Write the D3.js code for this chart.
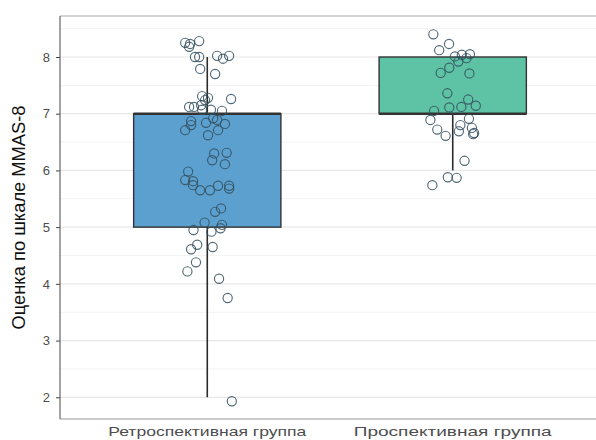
<!DOCTYPE html>
<html><head><meta charset="utf-8">
<script src="https://cdn.jsdelivr.net/npm/d3@7"></script>
<style>html,body{margin:0;padding:0;background:#fff;overflow:hidden}svg{display:block}</style>
</head><body>
<svg id="c" width="620" height="440"></svg>
<script>
const categories = ["Ретроспективная группа", "Проспективная группа"];
const boxLower  = [2, 6];
const boxQ1     = [5, 7];
const boxMedian = [7, 7];
const boxQ3     = [7, 8];
const boxUpper  = [8, 8];
const yTicks = [2, 3, 4, 5, 6, 7, 8];
const yTitle = "Оценка по шкале MMAS-8";

// jittered points: value and horizontal jitter (in category units)
const retroValues = [8.25,8.23,8.18,8.28,8.00,8.00,8.02,7.97,8.02,7.79,7.70,7.31,7.28,7.24,7.26,7.12,7.12,7.15,7.07,7.07,7.05,6.87,6.80,6.71,6.84,6.92,6.89,6.82,6.71,6.62,6.30,6.31,6.18,6.11,5.98,5.83,5.81,5.74,5.65,5.65,5.73,5.73,5.68,5.33,5.27,5.08,5.04,4.98,4.95,4.92,4.69,4.61,4.65,4.38,4.22,4.09,3.75,1.93];
const retroJitter = [-0.090,-0.070,-0.074,-0.033,-0.050,-0.033,0.040,0.064,0.089,-0.029,0.032,-0.021,0.003,-0.009,0.097,-0.074,-0.054,-0.025,-0.021,0.015,0.060,-0.066,-0.066,-0.090,-0.005,0.024,0.040,0.072,0.044,0.003,0.028,0.079,0.020,0.072,-0.078,-0.090,-0.058,-0.058,-0.029,0.011,0.044,0.089,0.089,0.056,0.032,-0.011,0.060,0.054,-0.056,0.017,-0.041,-0.066,0.022,-0.046,-0.081,0.048,0.083,0.100];
const prospValues = [8.40,8.23,8.12,8.01,8.04,8.05,7.98,7.92,7.81,7.72,7.71,7.36,7.25,7.14,7.12,7.11,7.05,6.89,6.91,6.80,6.72,6.69,6.75,6.61,6.64,6.66,6.17,5.88,5.87,5.74];
const prospJitter = [-0.079,-0.015,-0.055,0.009,0.037,0.070,0.056,0.023,-0.014,-0.049,0.068,-0.022,0.063,0.094,0.035,-0.014,-0.076,-0.091,0.066,0.031,-0.063,0.025,0.078,-0.029,0.083,0.087,0.048,-0.020,0.016,-0.083];
const fills = ["#5ca0cf", "#5ec2a4"];

const svg = d3.select("#c");
const L = 60, R = 600, T = 16, B = 419;
const x = d3.scaleLinear().domain([0.4, 2.6]).range([L, R]);
const y = d3.scaleLinear().domain([1.617, 8.723]).range([B, T]);
const RE = 610; // lines run past the window edge

// grid
const minor = d3.range(1.5, 9, 1).filter(v => v > 1.617 && v < 8.723);
svg.append("g").selectAll("line").data(minor).join("line")
  .attr("x1", L).attr("x2", RE).attr("y1", d => y(d)).attr("y2", d => y(d))
  .attr("stroke", "#f3f3f3").attr("stroke-width", 1);
svg.append("g").selectAll("line").data(yTicks).join("line")
  .attr("x1", L).attr("x2", RE).attr("y1", d => y(d)).attr("y2", d => y(d))
  .attr("stroke", "#e8e8e8").attr("stroke-width", 1.2);

// boxes
const boxes = categories.map((c, i) => ({i, lo: boxLower[i], q1: boxQ1[i], med: boxMedian[i], q3: boxQ3[i], hi: boxUpper[i]}));
const bw = 0.6;
const g = svg.append("g");
g.selectAll("line.wh").data(boxes).join("line").attr("class", "wh")
  .attr("x1", d => x(d.i + 1)).attr("x2", d => x(d.i + 1))
  .attr("y1", d => y(d.lo)).attr("y2", d => y(d.hi))
  .attr("stroke", "#2b2b2b").attr("stroke-width", 1.6);
g.selectAll("rect").data(boxes).join("rect")
  .attr("x", d => x(d.i + 1 - bw / 2)).attr("width", d => x(d.i + 1 + bw / 2) - x(d.i + 1 - bw / 2))
  .attr("y", d => y(d.q3)).attr("height", d => y(d.q1) - y(d.q3))
  .attr("fill", d => fills[d.i]).attr("stroke", "#333").attr("stroke-width", 1.4);
g.selectAll("line.med").data(boxes).join("line").attr("class", "med")
  .attr("x1", d => x(d.i + 1 - bw / 2)).attr("x2", d => x(d.i + 1 + bw / 2))
  .attr("y1", d => y(d.med)).attr("y2", d => y(d.med))
  .attr("stroke", "#333").attr("stroke-width", 2.6);

// points
const pts = [];
retroValues.forEach((v, k) => pts.push({cx: 1 + retroJitter[k], v}));
prospValues.forEach((v, k) => pts.push({cx: 2 + prospJitter[k], v}));
svg.append("g").selectAll("circle").data(pts).join("circle")
  .attr("cx", d => x(d.cx)).attr("cy", d => y(d.v)).attr("r", 4.6)
  .attr("fill", "none").attr("stroke", "#34505f").attr("stroke-opacity", 0.85).attr("stroke-width", 1.15);

// panel border
svg.append("line").attr("x1", L).attr("x2", RE).attr("y1", T).attr("y2", T).attr("stroke", "#aaa").attr("stroke-width", 1.2);
svg.append("line").attr("x1", L).attr("x2", RE).attr("y1", B).attr("y2", B).attr("stroke", "#999").attr("stroke-width", 1.2);
svg.append("line").attr("x1", L).attr("x2", L).attr("y1", T).attr("y2", B).attr("stroke", "#666").attr("stroke-width", 1.2);

// y axis
const ya = svg.append("g").attr("transform", `translate(${L},0)`)
  .call(d3.axisLeft(y).tickValues(yTicks).tickSize(4).tickPadding(6).tickFormat(d3.format("d")));
ya.select(".domain").remove();
ya.selectAll(".tick line").attr("stroke", "#444");
ya.selectAll(".tick text").attr("fill", "#4d4d4d").style("font-family", "Liberation Sans, Arial, sans-serif").style("font-size", "13px");

// x labels
svg.append("g").selectAll("text").data(categories).join("text")
  .attr("x", (d, i) => x(i + 1)).attr("y", 436).attr("text-anchor", "middle")
  .attr("textLength", 198).attr("lengthAdjust", "spacingAndGlyphs")
  .attr("fill", "#4d4d4d").style("font-family", "Liberation Sans, Arial, sans-serif").style("font-size", "13px")
  .text(d => d);

// y title
svg.append("text").attr("transform", `translate(25,${(T + B) / 2}) rotate(-90)`)
  .attr("text-anchor", "middle").attr("textLength", 224).attr("lengthAdjust", "spacingAndGlyphs")
  .attr("fill", "#111").style("font-family", "Liberation Sans Narrow, Liberation Sans, Arial, sans-serif").style("font-size", "18px")
  .text(yTitle);
</script>
</body></html>
